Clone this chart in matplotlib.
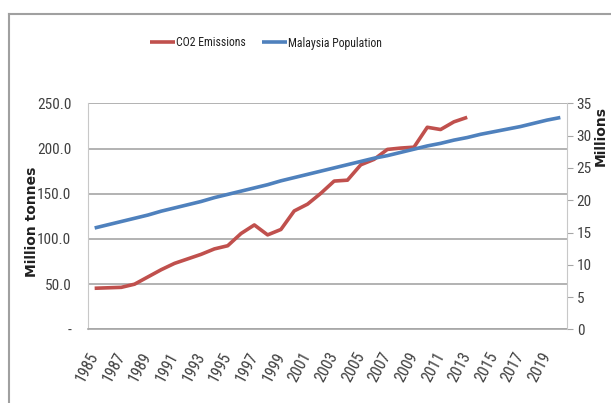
import matplotlib
matplotlib.use("Agg")
import matplotlib.pyplot as plt
from matplotlib.lines import Line2D
from matplotlib import font_manager

years = list(range(1985, 2021))
co2_years = list(range(1985, 2014))
co2 = [45.5, 46, 46.5, 50, 58, 66, 73, 78, 83, 89, 92.5, 106, 115.5, 104.5, 110.5,
       131, 138.5, 150.5, 164, 165, 182, 188, 199, 200.5, 201.5, 223.5, 221, 229.5, 234.5]
population = [15.7, 16.2, 16.7, 17.2, 17.7, 18.3, 18.8, 19.3, 19.8, 20.4, 20.9, 21.4,
              21.9, 22.4, 23.0, 23.5, 24.0, 24.5, 25.0, 25.5, 26.0, 26.5, 26.9, 27.4,
              27.9, 28.4, 28.8, 29.3, 29.7, 30.2, 30.6, 31.0, 31.4, 31.9, 32.4, 32.8]
left_ticks = [0, 50, 100, 150, 200, 250]
left_labels = ["-", "50.0", "100.0", "150.0", "200.0", "250.0"]
right_ticks = [0, 5, 10, 15, 20, 25, 30, 35]
x_label_years = list(range(1985, 2020, 2))

entries = font_manager.fontManager.ttflist
names = {f.name for f in entries}
stretch = "normal"
family = "DejaVu Sans"
for cand in ["Roboto Condensed", "Open Sans Condensed", "Liberation Sans Narrow"]:
    if cand in names:
        family = cand
        break
else:
    if any(f.name == "DejaVu Sans" and str(f.stretch) in ("condensed", "semi-condensed", "75", "87.5")
           for f in entries):
        stretch = "condensed"
plt.rcParams["font.family"] = [family, "DejaVu Sans"]
plt.rcParams["font.stretch"] = stretch

RED = "#C0504D"
BLUE = "#4F81BD"
TXT = "#404040"

fig = plt.figure(figsize=(6.11, 4.03), dpi=100)
W, H = 611, 403
ax = fig.add_axes([88 / W, 1 - 329.4 / H, (567 - 88) / W, (329.4 - 103.3) / H])
ax2 = ax.twinx()

idx = {y: i for i, y in enumerate(years)}
ax.plot([idx[y] for y in co2_years], co2, color=RED, lw=2.6, solid_capstyle="butt",
        label="CO2 Emissions", zorder=3)
ax2.plot([idx[y] for y in years], population, color=BLUE, lw=2.6, solid_capstyle="butt",
         label="Malaysia Population", zorder=3)

ax.set_xlim(-0.5, len(years) - 0.5)
ax.set_ylim(0, 250)
ax2.set_ylim(0, 35)

ax.set_yticks(left_ticks)
ax.set_yticklabels(left_labels)
ax.yaxis.grid(True, color="#a6a6a6", lw=1.2)
ax.set_axisbelow(True)
ax.tick_params(axis="y", length=0, pad=12, labelsize=11, labelcolor=TXT)

ax2.set_yticks(right_ticks)
ax2.tick_params(axis="y", length=4, width=0.8, color="#a6a6a6", pad=3,
                labelsize=11, labelcolor=TXT)

ax.set_xticks([idx[y] for y in x_label_years])
ax.set_xticklabels([str(y) for y in x_label_years], rotation=62, ha="right", va="center",
                   rotation_mode="anchor", fontsize=11.5, color=TXT)
ax.tick_params(axis="x", length=0, pad=17)

for a in (ax, ax2):
    for s in a.spines.values():
        s.set_visible(False)
ax.spines["left"].set_visible(True)
ax.spines["left"].set_color("#c8c8c8")
ax.spines["bottom"].set_visible(True)
ax.spines["bottom"].set_color("#a6a6a6")
ax.spines["bottom"].set_linewidth(1.2)
ax2.spines["right"].set_visible(True)
ax2.spines["right"].set_color("#c8c8c8")

fig.text(32 / W, 1 - 222 / H, "Million tonnes", rotation=90, ha="center", va="center",
         fontsize=10, fontweight="bold", family="DejaVu Sans", stretch="normal",
         color="#202020")
fig.text(601 / W, 1 - 136 / H, "Millions", rotation=90, ha="center", va="center",
         fontsize=10, fontweight="bold", family="DejaVu Sans", stretch="normal",
         color="#202020")

h1, l1 = ax.get_legend_handles_labels()
h2, l2 = ax2.get_legend_handles_labels()
fig.legend(h1 + h2, l1 + l2, loc="center", bbox_to_anchor=(266 / W, 1 - 43 / H),
           ncol=2, frameon=False, fontsize=8.5, handlelength=2.1, handletextpad=0.1,
           columnspacing=1.4, labelcolor="#202020")

# outer chart frame (top and left edges visible)
fig.add_artist(Line2D([9 / W, 1], [1 - 14 / H, 1 - 14 / H], transform=fig.transFigure,
                      color="#a0a0a0", lw=1.5))
fig.add_artist(Line2D([9 / W, 9 / W], [1 - 14 / H, 0], transform=fig.transFigure,
                      color="#a0a0a0", lw=1.5))

fig.savefig("out.png", dpi=100)
